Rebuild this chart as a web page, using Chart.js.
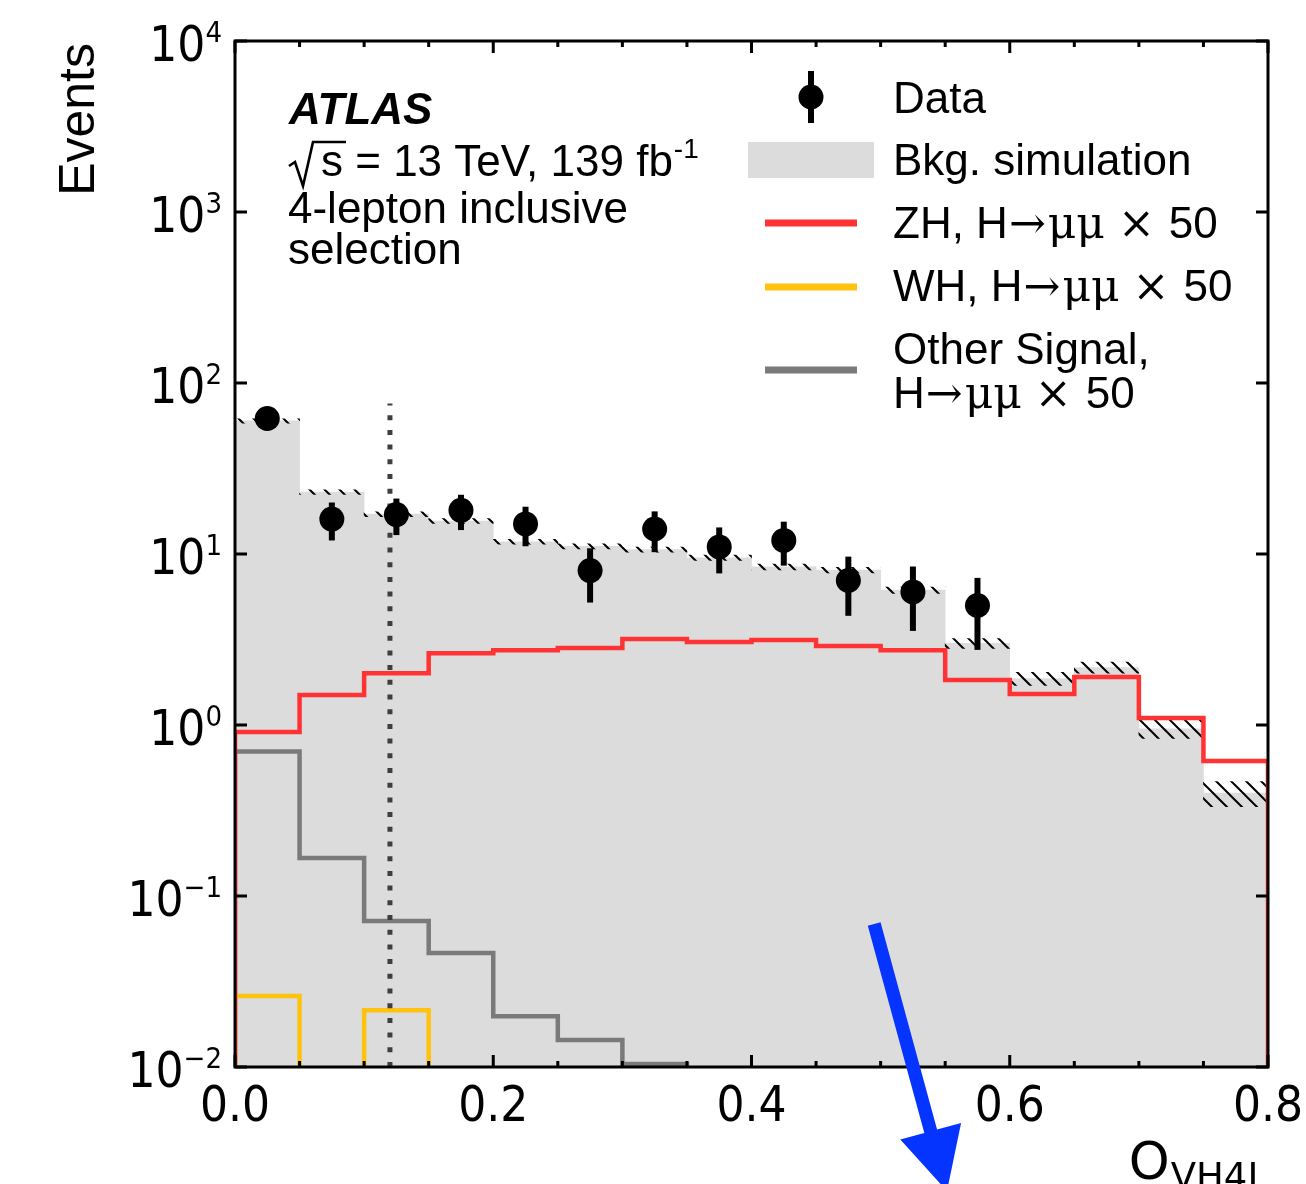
<!DOCTYPE html>
<html>
<head>
<meta charset="utf-8">
<title>O_VH4L distribution, 4-lepton inclusive selection</title>
<script src="https://cdn.jsdelivr.net/npm/chart.js@4.4.1/dist/chart.umd.min.js"></script>
<style>
  html, body { margin: 0; padding: 0; background: #fff; }
  #wrap { width: 1306px; height: 1184px; }
</style>
</head>
<body>
<div id="wrap"><canvas id="vh4l" width="1306" height="1184"></canvas></div>
<script>
// Histogram binning of O_VH4L
const BIN_EDGES = [0.00, 0.05, 0.10, 0.15, 0.20, 0.25, 0.30, 0.35, 0.40,
                   0.45, 0.50, 0.55, 0.60, 0.65, 0.70, 0.75, 0.80];

// Background simulation per bin and its uncertainty (hatched band)
const BKG     = [60, 23, 17.1, 15.6, 11.8, 11.1, 10.6, 9.5, 8.4, 8.05, 6.15, 3.0, 1.87, 2.17, 0.95, 0.40];
const BKG_ERR = [1.7, 0.7, 0.55, 0.5, 0.4, 0.38, 0.36, 0.34, 0.32, 0.3, 0.26, 0.2, 0.165, 0.16, 0.115, 0.067];

// Signal templates, already scaled by 50
const ZH    = [0.91, 1.50, 2.01, 2.63, 2.74, 2.82, 3.18, 3.06, 3.14, 2.90, 2.74, 1.83, 1.52, 1.91, 1.10, 0.616];
const WH    = [0.026, 0, 0.0215, 0, 0, 0, 0, 0, 0, 0, 0, 0, 0, 0, 0, 0];
const OTHER = [0.70, 0.167, 0.0715, 0.0464, 0.0198, 0.0144, 0.0104, 0, 0, 0, 0, 0, 0, 0, 0, 0];

// Observed events (only the first 12 bins are shown) and error bars
const DATA     = [62, 16, 17, 18, 15, 8, 14, 11, 12, 7, 6, 5];
const DATA_ERR = [7.8, 4.0, 4.1, 4.2, 3.9, 2.8, 3.75, 3.3, 3.45, 2.65, 2.45, 2.25];

// Axes
const X_MIN = 0, X_MAX = 0.8;
const X_TICKS = [0.0, 0.2, 0.4, 0.6, 0.8];
const X_MINOR_STEP = 0.05;
const Y_MIN = 1e-2, Y_MAX = 1e4;
const Y_EXPONENTS = [-2, -1, 0, 1, 2, 3, 4];

// Selection cut and the arrow pointing to the signal-enriched side
const CUT_X = 0.12;
const CUT_TOP = 76;
const ARROW_FROM = [0.495, 0.0686];
const ARROW_TO   = [0.5514, 0.00188];

const COLORS = {
  bkg: '#dcdcdc',
  zh: '#ff3333',
  wh: '#ffc20e',
  other: '#7a7a7a',
  cut: '#3e3e3e',
  arrow: '#0533ff',
};

const SANS  = '"Liberation Sans", Arial, Helvetica, sans-serif';
const SERIF = '"DejaVu Serif", "Liberation Serif", serif';
const TICK  = '"DejaVu Sans Condensed", "DejaVu Sans", sans-serif';
const MATHS = '"DejaVu Sans", sans-serif';
const TEXT_PX = 44;

const FLOOR = Y_MIN / 10;   // empty bins are drawn below the axis
const binCenter = i => (BIN_EDGES[i] + BIN_EDGES[i + 1]) / 2;

// outline of a step histogram, including the drops at both ends
function stepPoints(vals) {
  const n = vals.length;
  const pts = [{ x: BIN_EDGES[0], y: FLOOR }];
  vals.forEach((v, i) => pts.push({ x: BIN_EDGES[i], y: v > 0 ? v : FLOOR }));
  pts.push({ x: BIN_EDGES[n], y: vals[n - 1] > 0 ? vals[n - 1] : FLOOR });
  pts.push({ x: BIN_EDGES[n], y: FLOOR });
  return pts;
}

function hatchPattern(ctx) {
  const s = 15;
  const tile = document.createElement('canvas');
  tile.width = s; tile.height = s;
  const g = tile.getContext('2d');
  g.strokeStyle = '#000';
  g.lineWidth = 2;
  g.beginPath();
  g.moveTo(-3, -3); g.lineTo(s + 3, s + 3);
  g.moveTo(-3, s - 3); g.lineTo(3, s + 3);
  g.moveTo(s - 3, -3); g.lineTo(s + 3, 3);
  g.stroke();
  return ctx.createPattern(tile, 'repeat');
}

function drawRuns(ctx, x, y, parts) {
  for (const [text, font, gap = 0] of parts) {
    ctx.font = font;
    ctx.fillText(text, x, y);
    x += ctx.measureText(text).width + gap;
  }
  return x;
}

function hmumu(prefix) {
  const f = `${TEXT_PX}px ${SANS}`, m = `${TEXT_PX}px ${SERIF}`;
  return [[prefix + 'H', f, 1], ['\u2192', m, 2], ['\u03bc\u03bc', m, 13], ['\u00d7', m, 14], ['50', f]];
}

const decor = {
  id: 'decor',
  afterDatasetsDraw(chart) {
    const { ctx, scales: { x, y } } = chart;
    ctx.save();
    ctx.strokeStyle = '#000';
    ctx.lineWidth = 6;
    DATA.forEach((v, i) => {
      const px = x.getPixelForValue(binCenter(i));
      ctx.beginPath();
      ctx.moveTo(px, y.getPixelForValue(v - DATA_ERR[i]));
      ctx.lineTo(px, y.getPixelForValue(v + DATA_ERR[i]));
      ctx.stroke();
    });
    ctx.restore();
  },
  afterDraw(chart) {
    const { ctx, chartArea: a, scales: { x, y } } = chart;
    ctx.save();

    // frame and inward ticks
    ctx.strokeStyle = '#000';
    ctx.lineWidth = 3;
    ctx.strokeRect(a.left, a.top, a.right - a.left, a.bottom - a.top);
    ctx.beginPath();
    const nMinor = Math.round((X_MAX - X_MIN) / X_MINOR_STEP);
    for (let k = 0; k <= nMinor; k++) {
      const v = X_MIN + k * X_MINOR_STEP;
      const major = X_TICKS.some(t => Math.abs(t - v) < 1e-9);
      const len = major ? 12 : 6;
      const px = x.getPixelForValue(v);
      ctx.moveTo(px, a.bottom); ctx.lineTo(px, a.bottom - len);
      ctx.moveTo(px, a.top);    ctx.lineTo(px, a.top + len);
    }
    Y_EXPONENTS.forEach(e => {
      const py = y.getPixelForValue(Math.pow(10, e));
      ctx.moveTo(a.left, py);  ctx.lineTo(a.left + 12, py);
      ctx.moveTo(a.right, py); ctx.lineTo(a.right - 12, py);
    });
    ctx.stroke();

    // tick labels
    ctx.fillStyle = '#000';
    ctx.textBaseline = 'alphabetic';
    ctx.textAlign = 'center';
    ctx.font = `49px ${TICK}`;
    X_TICKS.forEach(t => ctx.fillText(t.toFixed(1), x.getPixelForValue(t), a.bottom + 54));

    ctx.textAlign = 'left';
    Y_EXPONENTS.forEach(e => {
      const py = y.getPixelForValue(Math.pow(10, e));
      const sup = e < 0 ? '\u2212' + (-e) : String(e);
      ctx.font = `29px ${TICK}`;
      const supW = ctx.measureText(sup).width;
      ctx.font = `49px ${TICK}`;
      const baseW = ctx.measureText('10').width;
      const right = a.left - 13;
      ctx.fillText('10', right - supW - baseW, py + 20);
      ctx.font = `29px ${TICK}`;
      ctx.fillText(sup, right - supW, py + 1);
    });

    // axis titles
    ctx.save();
    ctx.translate(94, a.top + 2);
    ctx.rotate(-Math.PI / 2);
    ctx.textAlign = 'right';
    ctx.font = `50px ${SANS}`;
    ctx.fillText('Events', 0, 0);
    ctx.restore();

    ctx.textAlign = 'right';
    ctx.font = `37px ${MATHS}`;
    const subW = ctx.measureText('VH4L').width;
    ctx.fillText('VH4L', a.right, a.bottom + 122);
    ctx.font = `52px ${MATHS}`;
    ctx.fillText('O', a.right - subW - 1, a.bottom + 112);

    // experiment label
    const body = `${TEXT_PX}px ${SANS}`;
    ctx.textAlign = 'left';
    ctx.font = `italic bold ${TEXT_PX}px ${SANS}`;
    ctx.fillText('ATLAS', 289, 124);
    ctx.lineWidth = 2.6;
    ctx.lineJoin = 'miter';
    ctx.beginPath();
    ctx.moveTo(289, 166); ctx.lineTo(295, 162);
    ctx.lineTo(303, 186); ctx.lineTo(313, 142); ctx.lineTo(346, 142);
    ctx.stroke();
    const tx = drawRuns(ctx, 321, 176, [['s = 13 TeV, 139 fb', body, 1]]);
    ctx.font = `28px ${SANS}`;
    ctx.fillText('-1', tx, 158);
    ctx.font = body;
    ctx.fillText('4-lepton inclusive', 288, 223);
    ctx.fillText('selection', 288, 264);

    // legend
    const lx = 893;
    ctx.beginPath();
    ctx.arc(811, 97, 12.5, 0, Math.PI * 2);
    ctx.fill();
    ctx.lineWidth = 6;
    ctx.beginPath();
    ctx.moveTo(811, 71); ctx.lineTo(811, 123);
    ctx.stroke();
    ctx.fillText('Data', lx, 113);

    ctx.fillStyle = COLORS.bkg;
    ctx.fillRect(748, 142, 126, 36);
    ctx.fillStyle = '#000';
    ctx.fillText('Bkg. simulation', lx, 175);

    ctx.lineWidth = 7;
    [[COLORS.zh, 223], [COLORS.wh, 287], [COLORS.other, 370]].forEach(([c, ly]) => {
      ctx.strokeStyle = c;
      ctx.beginPath();
      ctx.moveTo(765, ly); ctx.lineTo(857, ly);
      ctx.stroke();
    });
    drawRuns(ctx, lx, 238, hmumu('ZH, '));
    drawRuns(ctx, lx, 301, hmumu('WH, '));
    ctx.font = body;
    ctx.fillText('Other Signal,', lx, 364);
    drawRuns(ctx, lx, 408, hmumu(''));

    // arrow
    const x0 = x.getPixelForValue(ARROW_FROM[0]), y0 = y.getPixelForValue(ARROW_FROM[1]);
    const x1 = x.getPixelForValue(ARROW_TO[0]),   y1 = y.getPixelForValue(ARROW_TO[1]);
    const len = Math.hypot(x1 - x0, y1 - y0);
    ctx.translate(x0, y0);
    ctx.rotate(Math.atan2(y1 - y0, x1 - x0));
    const headL = 62, headW = 31.5, shaftW = 6.6;
    ctx.fillStyle = COLORS.arrow;
    ctx.beginPath();
    ctx.moveTo(0, -shaftW);
    ctx.lineTo(len - headL, -shaftW);
    ctx.lineTo(len - headL, -headW);
    ctx.lineTo(len, 0);
    ctx.lineTo(len - headL, headW);
    ctx.lineTo(len - headL, shaftW);
    ctx.lineTo(0, shaftW);
    ctx.closePath();
    ctx.fill();

    ctx.restore();
  },
};

const canvas = document.getElementById('vh4l');
const ctx2d = canvas.getContext('2d');

// horizontal run first, then the vertical jump at the next bin edge
const histLine = (label, vals, color, order) => ({
  type: 'line',
  label,
  data: stepPoints(vals),
  stepped: 'before',
  borderColor: color,
  borderWidth: 4.5,
  pointRadius: 0,
  order,
});

new Chart(canvas, {
  type: 'bar',
  data: {
    datasets: [
      {
        type: 'line',
        label: 'Data',
        data: DATA.map((v, i) => ({ x: binCenter(i), y: v })),
        showLine: false,
        pointRadius: 12.5,
        pointBackgroundColor: '#000',
        pointBorderWidth: 0,
        order: 0,
      },
      {
        type: 'line',
        label: 'cut',
        data: [{ x: CUT_X, y: Y_MIN }, { x: CUT_X, y: CUT_TOP }],
        borderColor: COLORS.cut,
        borderWidth: 5,
        borderDash: [5, 9.7],
        borderCapStyle: 'butt',
        pointRadius: 0,
        order: 1,
      },
      histLine('ZH, H→μμ × 50', ZH, COLORS.zh, 2),
      histLine('WH, H→μμ × 50', WH, COLORS.wh, 3),
      histLine('Other Signal, H→μμ × 50', OTHER, COLORS.other, 4),
      {
        type: 'bar',
        label: 'Bkg. uncertainty',
        data: BKG.map((v, i) => ({ x: binCenter(i), y: [v - BKG_ERR[i], v + BKG_ERR[i]] })),
        backgroundColor: hatchPattern(ctx2d),
        borderWidth: 0,
        grouped: false,
        barPercentage: 1,
        categoryPercentage: 1,
        order: 5,
      },
      {
        type: 'bar',
        label: 'Bkg. simulation',
        data: BKG.map((v, i) => ({ x: binCenter(i), y: v })),
        backgroundColor: COLORS.bkg,
        borderWidth: 0,
        grouped: false,
        barPercentage: 1,
        categoryPercentage: 1,
        order: 6,
      },
    ],
  },
  options: {
    responsive: false,
    animation: false,
    events: [],
    layout: { padding: { top: 41, right: 38, left: 0, bottom: 0 } },
    plugins: { legend: { display: false }, tooltip: { enabled: false } },
    scales: {
      x: {
        type: 'linear',
        offset: false,
        min: X_MIN,
        max: X_MAX,
        ticks: { display: false, stepSize: X_MINOR_STEP },
        grid: { display: false, offset: false },
        border: { display: false },
        afterFit: s => { s.height = 117; },
      },
      y: {
        type: 'logarithmic',
        min: Y_MIN,
        max: Y_MAX,
        ticks: { display: false },
        grid: { display: false },
        border: { display: false },
        afterFit: s => { s.width = 235; },
      },
    },
  },
  plugins: [decor],
});
</script>
</body>
</html>
